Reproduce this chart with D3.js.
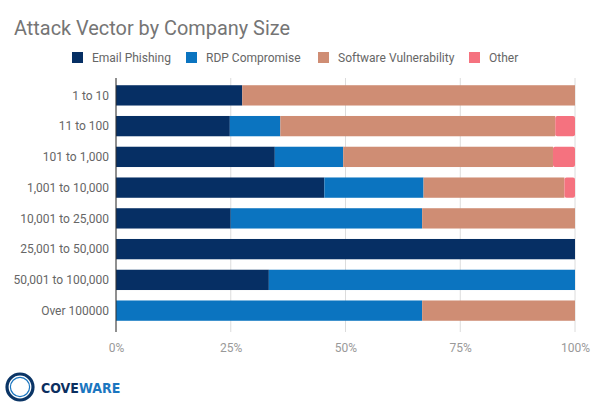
<!DOCTYPE html>
<html>
<head>
<meta charset="utf-8">
<script src="https://cdn.jsdelivr.net/npm/d3@7"></script>
<style>
  body { margin: 0; background: #fff; }
  text { font-family: Roboto, "Noto Sans", sans-serif; }
</style>
</head>
<body>
<svg id="chart" width="600" height="413"></svg>
<script>
// data (percent of attacks per company size)
const categories = ['1 to 10', '11 to 100', '101 to 1,000', '1,001 to 10,000',
  '10,001 to 25,000', '25,001 to 50,000', '50,001 to 100,000', 'Over 100000'];
const seriesNames = ['Email Phishing', 'RDP Compromise', 'Software Vulnerability', 'Other'];
const emailPhishing = [27.5, 24.8, 34.6, 45.4, 25.0, 100, 33.3, 0];
const rdpCompromise = [0, 11.0, 14.9, 21.6, 41.7, 0, 66.7, 66.7];
const softwareVuln = [72.5, 59.9, 45.7, 30.7, 33.3, 0, 0, 33.3];
const other = [0, 4.3, 4.8, 2.3, 0, 0, 0, 0];
const xTicks = [0, 25, 50, 75, 100];

const colors = ['#062f64', '#0b74c0', '#cf8d74', '#f5727f'];

const margins = { top: 80, left: 116, right: 25, bottom: 87 };
const width = 600, height = 413;
const innerW = width - margins.left - margins.right;
const innerH = height - margins.top - margins.bottom;

const svg = d3.select('#chart');

const rows = categories.map((c, i) => ({
  cat: c,
  'Email Phishing': emailPhishing[i],
  'RDP Compromise': rdpCompromise[i],
  'Software Vulnerability': softwareVuln[i],
  'Other': other[i]
}));
const stacked = d3.stack().keys(seriesNames)(rows);

const x = d3.scaleLinear().domain([0, 100]).range([0, innerW]);
const y = d3.scaleBand().domain(categories).range([0, innerH]).paddingInner(0.34).paddingOuter(0.17);

// title
svg.append('text')
  .attr('x', 14).attr('y', 35)
  .attr('font-size', 21)
  .attr('fill', '#757575')
  .attr('textLength', 276)
  .attr('lengthAdjust', 'spacingAndGlyphs')
  .text('Attack Vector by Company Size');

// legend
const legendX = [72, 186, 318, 469];
const legend = svg.append('g');
seriesNames.forEach((s, i) => {
  legend.append('rect')
    .attr('x', legendX[i]).attr('y', 52)
    .attr('width', 11).attr('height', 11)
    .attr('fill', colors[i]);
  legend.append('text')
    .attr('x', legendX[i] + 20).attr('y', 62)
    .attr('font-size', 12)
    .attr('fill', '#666')
    .text(s);
});

const g = svg.append('g').attr('transform', 'translate(' + margins.left + ',' + margins.top + ')');

// gridlines
g.selectAll('.grid')
  .data(xTicks)
  .enter().append('line')
  .attr('x1', d => x(d)).attr('x2', d => x(d))
  .attr('y1', -2).attr('y2', innerH + 6)
  .attr('stroke', '#dcdcdc')
  .attr('stroke-width', 1);

// bars
stacked.forEach((layer, li) => {
  g.selectAll('.bar' + li)
    .data(layer.filter(d => d[1] - d[0] > 0))
    .enter().append('rect')
    .attr('x', d => x(d[0]))
    .attr('width', d => x(d[1]) - x(d[0]))
    .attr('y', d => y(d.data.cat))
    .attr('height', y.bandwidth())
    .attr('rx', li === 3 ? 2 : 0)
    .attr('fill', colors[li]);
});

// baseline
g.append('line')
  .attr('x1', 0).attr('x2', 0)
  .attr('y1', -2).attr('y2', innerH + 6)
  .attr('stroke', '#333')
  .attr('stroke-width', 1);

// y labels
g.selectAll('.ylab')
  .data(categories)
  .enter().append('text')
  .attr('x', -7)
  .attr('y', d => y(d) + y.bandwidth() / 2)
  .attr('dy', '0.35em')
  .attr('text-anchor', 'end')
  .attr('font-size', 12)
  .attr('fill', '#666')
  .text(d => d);

// x axis labels
const xAxis = d3.axisBottom(x).tickValues(xTicks).tickFormat(d => d + '%').tickSize(0);
const ax = g.append('g')
  .attr('transform', 'translate(0,' + (innerH + 14) + ')')
  .call(xAxis);
ax.select('.domain').remove();
ax.selectAll('text')
  .attr('font-size', 12)
  .attr('fill', '#999')
  .style('font-family', 'Roboto, sans-serif');

// coveware logo
const logo = svg.append('g').attr('transform', 'translate(20,387)');
logo.append('circle').attr('r', 13).attr('fill', 'none').attr('stroke', '#0b3566').attr('stroke-width', 3.2);
logo.append('circle').attr('r', 9.6).attr('fill', 'none').attr('stroke', '#1a76c0').attr('stroke-width', 1.2);
const brand = svg.append('text')
  .attr('x', 41).attr('y', 392.5)
  .attr('font-size', 14)
  .attr('font-weight', 'bold')
  .style('font-family', '"Liberation Sans Narrow", "DejaVu Sans Condensed", sans-serif');
brand.append('tspan').attr('fill', '#0b2f60').text('COVE');
brand.append('tspan').attr('fill', '#1a76c0').text('WARE');
</script>
</body>
</html>
